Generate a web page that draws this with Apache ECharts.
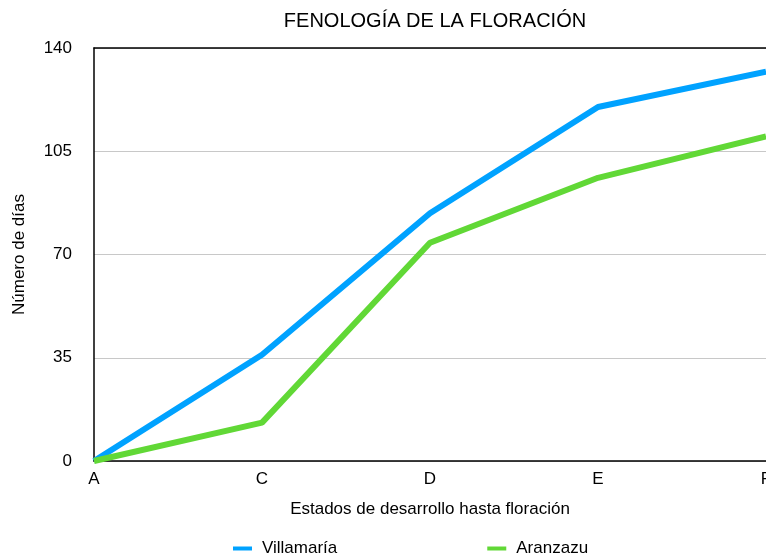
<!DOCTYPE html>
<html>
<head>
<meta charset="utf-8">
<script src="https://cdn.jsdelivr.net/npm/echarts@6/dist/echarts.min.js"></script>
<style>html,body{margin:0;padding:0;background:#fff;}#c{width:766px;height:554px;}</style>
</head>
<body>
<div id="c"></div>
<script>
const categories = ['A', 'C', 'D', 'E', 'F'];
const villamaria = [0, 36, 84, 120, 132];
const aranzazu = [0, 13, 74, 96, 110];
const yTicks = [0, 35, 70, 105, 140];

const font = '"Liberation Sans", Arial, sans-serif';
const chart = echarts.init(document.getElementById('c'), null, {renderer: 'canvas'});
chart.setOption({
  animation: false,
  backgroundColor: '#fff',
  textStyle: {fontFamily: font},
  title: {
    text: 'FENOLOGÍA DE LA FLORACIÓN',
    left: 430, top: 6, textAlign: 'center',
    textStyle: {fontFamily: font, fontSize: 20, fontWeight: 'normal', color: '#000'}
  },
  grid: {left: 94, right: 0, top: 48, bottom: 93, containLabel: false, outerBoundsMode: 'none'},
  legend: {
    data: ['Villamaría', 'Aranzazu'],
    top: 535, left: 228, itemGap: 150,
    itemWidth: 19, itemHeight: 4,
    icon: 'rect',
    textStyle: {fontFamily: font, fontSize: 17, color: '#000', padding: [0, 0, 0, 5]}
  },
  xAxis: [{
    type: 'category', data: categories, boundaryGap: false,
    name: 'Estados de desarrollo hasta floración',
    nameLocation: 'middle', nameGap: 40,
    nameTextStyle: {fontFamily: font, fontSize: 17, color: '#000'},
    axisLine: {lineStyle: {color: '#000', width: 1.5}},
    axisTick: {show: false},
    axisLabel: {fontFamily: font, fontSize: 17, color: '#000', margin: 10},
    splitLine: {show: false}
  }, {
    type: 'category', data: categories, boundaryGap: false, position: 'top',
    axisLine: {show: true, onZero: false, lineStyle: {color: '#000', width: 1.5}},
    axisTick: {show: false}, axisLabel: {show: false}, splitLine: {show: false}
  }],
  yAxis: {
    type: 'value', min: yTicks[0], max: yTicks[yTicks.length - 1], interval: 35,
    name: 'Número de días', nameLocation: 'middle', nameGap: 66,
    nameTextStyle: {fontFamily: font, fontSize: 17, color: '#000'},
    axisLine: {show: true, lineStyle: {color: '#000', width: 1.5}},
    axisTick: {show: false},
    axisLabel: {fontFamily: font, fontSize: 17, color: '#000', margin: 22},
    splitLine: {lineStyle: {color: '#c8c8c8', width: 1}}
  },
  series: [{
    name: 'Villamaría', type: 'line', data: villamaria,
    symbol: 'none', lineStyle: {width: 6, color: '#00A2FF'}, itemStyle: {color: '#00A2FF'}
  }, {
    name: 'Aranzazu', type: 'line', data: aranzazu,
    symbol: 'none', lineStyle: {width: 6, color: '#61D836'}, itemStyle: {color: '#61D836'}
  }]
});
</script>
</body>
</html>
